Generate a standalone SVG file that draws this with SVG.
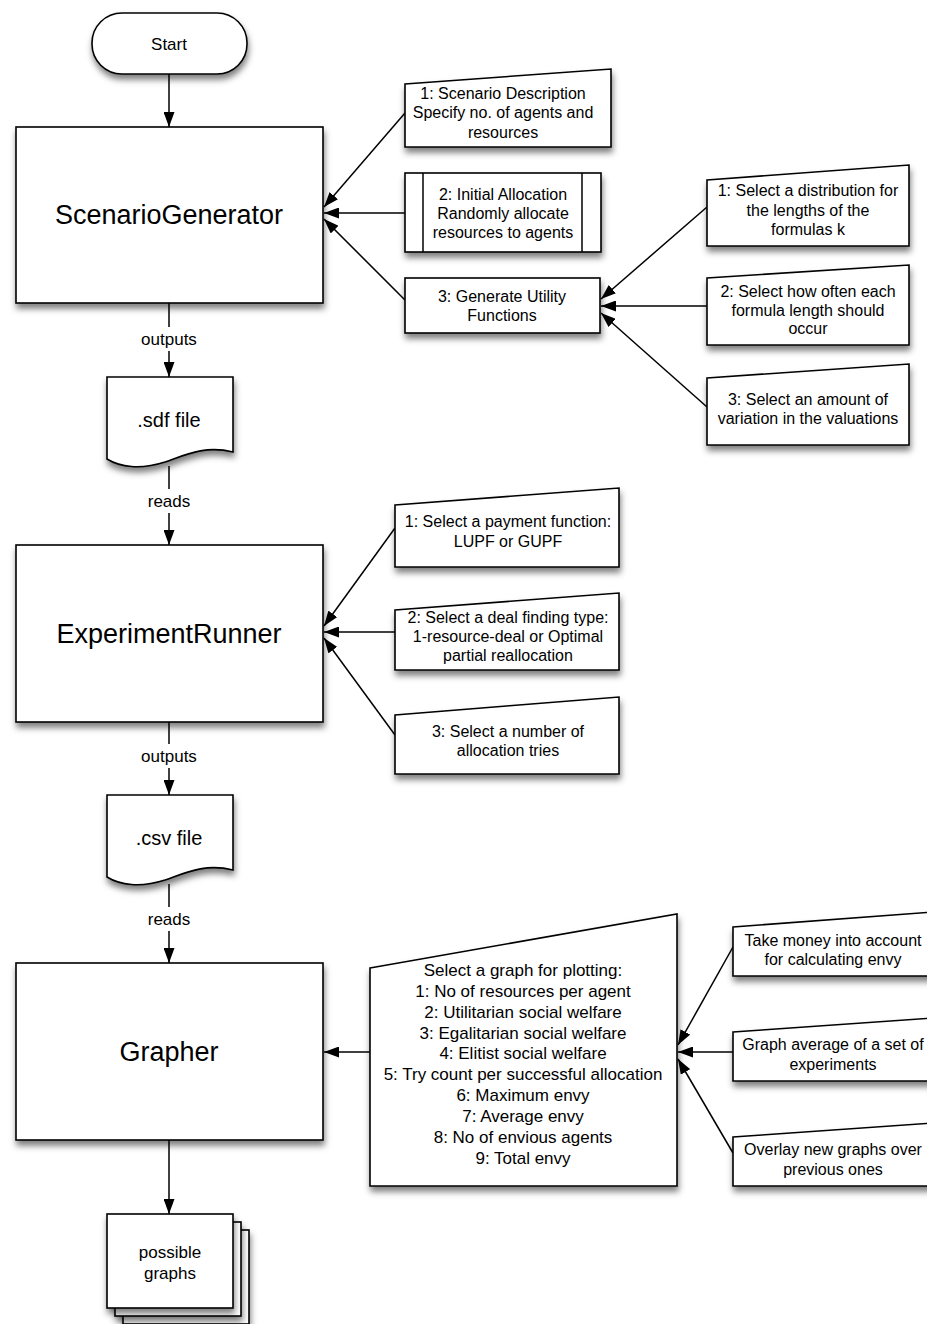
<svg xmlns="http://www.w3.org/2000/svg" width="927" height="1324" viewBox="0 0 927 1324">
<style>
.s{fill:#fff;stroke:#000;stroke-width:1.6;filter:url(#sh)}
.t{font-family:"Liberation Sans",Arial,sans-serif;fill:#000;text-anchor:middle}
.big{font-size:27px}
.sm{font-size:16px}
.lb{font-size:17px}
.c line{stroke:#000;stroke-width:1.5;fill:none}
.a{marker-end:url(#ah)}
</style>
<defs>
<filter id="sh" x="-20%" y="-20%" width="140%" height="150%">
<feDropShadow dx="1" dy="5" stdDeviation="3" flood-color="#000" flood-opacity="0.5"/>
</filter>
<marker id="ah" markerUnits="userSpaceOnUse" markerWidth="15" markerHeight="11" refX="15" refY="5.5" orient="auto">
<path d="M0,0 L15,5.5 L0,11 Z" fill="#000"/>
</marker>
</defs>
<rect width="927" height="1324" fill="#fff"/>

<g class="c" id="connectors">
<line class="a" x1="169" y1="74" x2="169" y2="127"/>
<line x1="169" y1="303" x2="169" y2="327"/>
<line class="a" x1="169" y1="351" x2="169" y2="377"/>
<line x1="169" y1="466" x2="169" y2="489"/>
<line class="a" x1="169" y1="513" x2="169" y2="545"/>
<line x1="169" y1="722" x2="169" y2="744"/>
<line class="a" x1="169" y1="768" x2="169" y2="795"/>
<line x1="169" y1="884" x2="169" y2="907"/>
<line class="a" x1="169" y1="931" x2="169" y2="963"/>
<line class="a" x1="169" y1="1140" x2="169" y2="1214"/>
<line class="a" x1="405" y1="113" x2="324" y2="207"/>
<line class="a" x1="405" y1="213" x2="324" y2="213"/>
<line class="a" x1="405" y1="300" x2="324" y2="219"/>
<line class="a" x1="707" y1="207" x2="601" y2="299"/>
<line class="a" x1="707" y1="306" x2="601" y2="306"/>
<line class="a" x1="707" y1="407" x2="601" y2="313"/>
<line class="a" x1="395" y1="528" x2="324" y2="626"/>
<line class="a" x1="395" y1="632" x2="324" y2="632"/>
<line class="a" x1="395" y1="735" x2="324" y2="638"/>
<line class="a" x1="370" y1="1052" x2="324" y2="1052"/>
<line class="a" x1="733" y1="947" x2="678" y2="1045"/>
<line class="a" x1="733" y1="1052" x2="678" y2="1052"/>
<line class="a" x1="733" y1="1153" x2="678" y2="1059"/>
<text class="t lb" x="169" y="345">outputs</text>
<text class="t lb" x="169" y="507">reads</text>
<text class="t lb" x="169" y="762">outputs</text>
<text class="t lb" x="169" y="925">reads</text>
</g>

<g id="start">
<rect class="s" x="92" y="13" width="155" height="61" rx="30" ry="30"/>
<text class="t lb" x="169" y="50">Start</text>
</g>

<g id="scenarioGenerator">
<rect class="s" x="16" y="127" width="307" height="176"/>
<text class="t big" x="169" y="224">ScenarioGenerator</text>
</g>

<g id="sdfFile">
<path class="s" d="M107,377 H233 V452 C205,445 185,455 165,462 C140,470 120,467 107,459 Z"/>
<text class="t" style="font-size:20px" x="169" y="427">.sdf file</text>
</g>

<g id="experimentRunner">
<rect class="s" x="16" y="545" width="307" height="177"/>
<text class="t big" x="169" y="643">ExperimentRunner</text>
</g>

<g id="csvFile">
<path class="s" d="M107,795 H233 V870 C205,863 185,873 165,880 C140,888 120,885 107,877 Z"/>
<text class="t" style="font-size:20px" x="169" y="845">.csv file</text>
</g>

<g id="grapher">
<rect class="s" x="16" y="963" width="307" height="177"/>
<text class="t big" x="169" y="1061">Grapher</text>
</g>

<g id="possibleGraphs">
<rect class="s" x="123" y="1230" width="126" height="94"/>
<rect class="s" x="115" y="1222" width="126" height="94"/>
<rect class="s" x="107" y="1214" width="126" height="94"/>
<text class="t lb" x="170" y="1258">possible</text>
<text class="t lb" x="170" y="1279">graphs</text>
</g>

<g id="scenarioDescription">
<polygon class="s" points="405,84 611,69 611,147 405,147"/>
<text class="t sm" x="503" y="99">1: Scenario Description</text>
<text class="t sm" x="503" y="118">Specify no. of agents and</text>
<text class="t sm" x="503" y="138">resources</text>
</g>

<g id="initialAllocation">
<rect class="s" x="405" y="173" width="196" height="79"/>
<line x1="423" y1="173" x2="423" y2="252" stroke="#000" stroke-width="1.5"/>
<line x1="582" y1="173" x2="582" y2="252" stroke="#000" stroke-width="1.5"/>
<text class="t sm" x="503" y="200">2: Initial Allocation</text>
<text class="t sm" x="503" y="219">Randomly allocate</text>
<text class="t sm" x="503" y="238">resources to agents</text>
</g>

<g id="generateUtility">
<rect class="s" x="405" y="278" width="195" height="55"/>
<text class="t sm" x="502" y="302">3: Generate Utility</text>
<text class="t sm" x="502" y="321">Functions</text>
</g>

<g id="selectDistribution">
<polygon class="s" points="707,180 909,165 909,246 707,246"/>
<text class="t sm" x="808" y="196">1: Select a distribution for</text>
<text class="t sm" x="808" y="216">the lengths of the</text>
<text class="t sm" x="808" y="235">formulas k</text>
</g>

<g id="selectHowOften">
<polygon class="s" points="707,278 909,265 909,345 707,345"/>
<text class="t sm" x="808" y="297">2: Select how often each</text>
<text class="t sm" x="808" y="316">formula length should</text>
<text class="t sm" x="808" y="334">occur</text>
</g>

<g id="selectVariation">
<polygon class="s" points="707,378 909,364 909,445 707,445"/>
<text class="t sm" x="808" y="405">3: Select an amount of</text>
<text class="t sm" x="808" y="424">variation in the valuations</text>
</g>

<g id="selectPayment">
<polygon class="s" points="395,505 619,488 619,567 395,567"/>
<text class="t sm" x="508" y="527">1: Select a payment function:</text>
<text class="t sm" x="508" y="547">LUPF or GUPF</text>
</g>

<g id="selectDeal">
<polygon class="s" points="395,610 619,593 619,670 395,670"/>
<text class="t sm" x="508" y="623">2: Select a deal finding type:</text>
<text class="t sm" x="508" y="642">1-resource-deal or Optimal</text>
<text class="t sm" x="508" y="661">partial reallocation</text>
</g>

<g id="selectTries">
<polygon class="s" points="395,715 619,697 619,774 395,774"/>
<text class="t sm" x="508" y="737">3: Select a number of</text>
<text class="t sm" x="508" y="756">allocation tries</text>
</g>

<g id="selectGraph">
<polygon class="s" points="370,968 677,914 677,1186 370,1186"/>
<text class="t lb" x="523" y="976">Select a graph for plotting:</text>
<text class="t lb" x="523" y="997">1: No of resources per agent</text>
<text class="t lb" x="523" y="1018">2: Utilitarian social welfare</text>
<text class="t lb" x="523" y="1039">3: Egalitarian social welfare</text>
<text class="t lb" x="523" y="1059">4: Elitist social welfare</text>
<text class="t lb" x="523" y="1080">5: Try count per successful allocation</text>
<text class="t lb" x="523" y="1101">6: Maximum envy</text>
<text class="t lb" x="523" y="1122">7: Average envy</text>
<text class="t lb" x="523" y="1143">8: No of envious agents</text>
<text class="t lb" x="523" y="1164">9: Total envy</text>
</g>

<g id="takeMoney">
<polygon class="s" points="733,927 933,912 933,976 733,976"/>
<text class="t sm" x="833" y="946">Take money into account</text>
<text class="t sm" x="833" y="965">for calculating envy</text>
</g>

<g id="graphAverage">
<polygon class="s" points="733,1032 933,1018 933,1081 733,1081"/>
<text class="t sm" x="833" y="1050">Graph average of a set of</text>
<text class="t sm" x="833" y="1070">experiments</text>
</g>

<g id="overlayGraphs">
<polygon class="s" points="733,1137 933,1123 933,1186 733,1186"/>
<text class="t sm" x="833" y="1155">Overlay new graphs over</text>
<text class="t sm" x="833" y="1175">previous ones</text>
</g>
</svg>
